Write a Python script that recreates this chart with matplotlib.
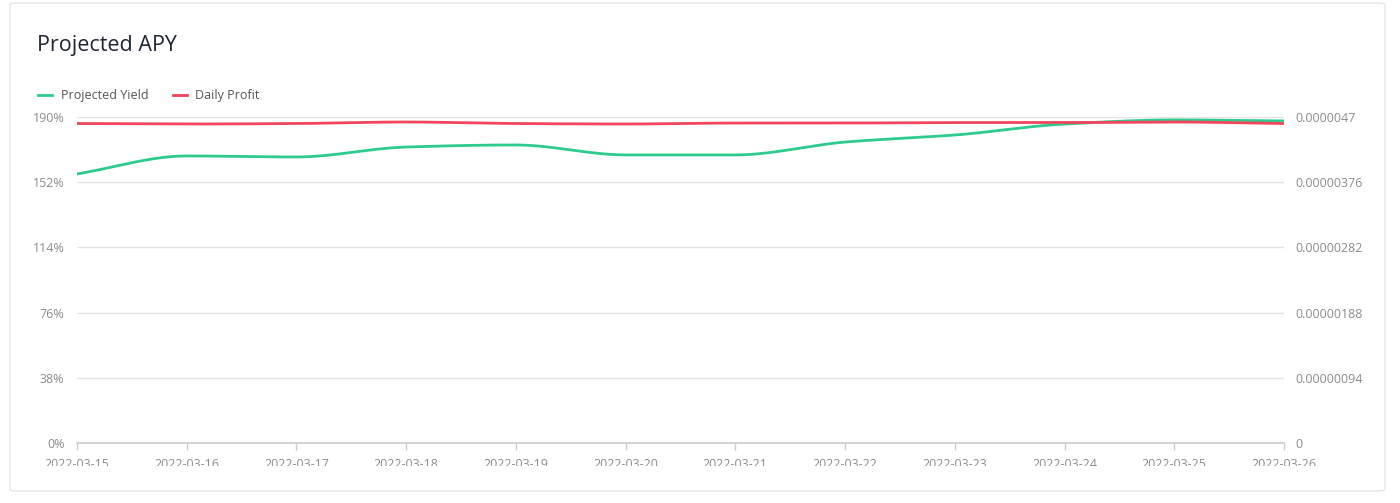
import matplotlib.pyplot as plt
import numpy as np
from matplotlib.patches import FancyBboxPatch
from matplotlib.transforms import Bbox, TransformedBbox
from matplotlib.ticker import FixedLocator, FixedFormatter

plt.rcParams['font.family'] = ['Open Sans', 'DejaVu Sans']

# data
dates = ['2022-03-15', '2022-03-16', '2022-03-17', '2022-03-18', '2022-03-19', '2022-03-20',
         '2022-03-21', '2022-03-22', '2022-03-23', '2022-03-24', '2022-03-25', '2022-03-26']
projected_yield = [156.8, 167.3, 166.7, 172.5, 173.7, 167.9, 167.9, 175.4, 179.5, 185.9, 188.3, 187.7]
daily_profit = [4.606e-6, 4.599e-6, 4.606e-6, 4.628e-6, 4.606e-6, 4.599e-6,
                4.613e-6, 4.613e-6, 4.620e-6, 4.620e-6, 4.628e-6, 4.606e-6]
left_ticks = [0, 38, 76, 114, 152, 190]
left_labels = ['0%', '38%', '76%', '114%', '152%', '190%']
right_ticks = [0, 0.00000094, 0.00000188, 0.00000282, 0.00000376, 0.0000047]
right_labels = ['0', '0.00000094', '0.00000188', '0.00000282', '0.00000376', '0.0000047']

GREEN = '#2ecb8e'
RED = '#f0455a'
GRID = '#e3e3e3'
TICK = '#8c8c8c'


def monotone(x, y, n=400):
    # Fritsch-Carlson monotone cubic, just for drawing a smooth line
    x = np.asarray(x, float)
    y = np.asarray(y, float)
    h = np.diff(x)
    d = np.diff(y) / h
    m = np.zeros_like(y)
    m[0], m[-1] = d[0], d[-1]
    for i in range(1, len(y) - 1):
        if d[i - 1] * d[i] <= 0:
            m[i] = 0
        else:
            w1 = 2 * h[i] + h[i - 1]
            w2 = h[i] + 2 * h[i - 1]
            m[i] = (w1 + w2) / (w1 / d[i - 1] + w2 / d[i])
    xs = np.linspace(x[0], x[-1], n)
    idx = np.clip(np.searchsorted(x, xs) - 1, 0, len(x) - 2)
    t = (xs - x[idx]) / h[idx]
    h00 = 2 * t**3 - 3 * t**2 + 1
    h10 = t**3 - 2 * t**2 + t
    h01 = -2 * t**3 + 3 * t**2
    h11 = t**3 - t**2
    ys = h00 * y[idx] + h10 * h[idx] * m[idx] + h01 * y[idx + 1] + h11 * h[idx] * m[idx + 1]
    return xs, ys


fig = plt.figure(figsize=(14, 5.03), dpi=100)

# card background, behind the axes
card = FancyBboxPatch((10 / 1400, 12 / 503), 1375 / 1400, 488 / 503,
                      boxstyle='round,pad=0,rounding_size=0.004',
                      transform=fig.transFigure, facecolor='white',
                      edgecolor='#e6e6e6', linewidth=1.0, zorder=-10)
fig.patches.append(card)

fig.text(37 / 1400, 1 - 45 / 503, 'Projected APY', fontsize=15.5, color='#1f2533', va='center')

ax = fig.add_axes([77 / 1400, 60 / 503, 1207 / 1400, 326 / 503])
ax2 = ax.twinx()
ax.patch.set_alpha(0)
ax2.patch.set_alpha(0)

x = np.arange(len(dates))
xs, ys = monotone(x, projected_yield)
ax.plot(xs, ys, color=GREEN, lw=2, zorder=3)
xs, ys = monotone(x, daily_profit)
ax2.plot(xs, ys, color=RED, lw=2, zorder=3)

ax.set_xlim(0, len(dates) - 1)
ax.set_ylim(0, 190)
ax2.set_ylim(0, 0.0000047)

ax.yaxis.set_major_locator(FixedLocator(left_ticks))
ax.yaxis.set_major_formatter(FixedFormatter(left_labels))
ax2.yaxis.set_major_locator(FixedLocator(right_ticks))
ax2.yaxis.set_major_formatter(FixedFormatter(right_labels))
ax.set_xticks(x)
ax.set_xticklabels(dates)

ax.grid(axis='y', color=GRID, lw=1)
ax.set_axisbelow(True)
for a in (ax, ax2):
    for s in ('top', 'left', 'right', 'bottom'):
        a.spines[s].set_visible(False)
ax.spines['bottom'].set_visible(True)
ax.spines['bottom'].set_color('#cccccc')
ax.spines['bottom'].set_linewidth(1.2)

ax.tick_params(axis='y', length=0, pad=9, labelsize=9, labelcolor=TICK)
ax2.tick_params(axis='y', length=0, pad=8, labelsize=9, labelcolor=TICK)
ax.tick_params(axis='x', length=5, width=1, color='#cccccc', pad=6, labelsize=9, labelcolor=TICK)

# legend drawn by hand
legend_y = 1 - 95 / 503
fig.add_artist(plt.Line2D([38 / 1400, 52 / 1400], [legend_y, legend_y], color=GREEN, lw=2,
                          transform=fig.transFigure))
fig.text(61 / 1400, legend_y, 'Projected Yield', fontsize=9, color='#555555', va='center')
fig.add_artist(plt.Line2D([173 / 1400, 187 / 1400], [legend_y, legend_y], color=RED, lw=2,
                          transform=fig.transFigure))
fig.text(195 / 1400, legend_y, 'Daily Profit', fontsize=9, color='#555555', va='center')

# the date labels are cut off at the bottom in the reference
clip = TransformedBbox(Bbox([[0, 37 / 503], [1, 1]]), fig.transFigure)
for lbl in ax.get_xticklabels():
    lbl.set_clip_on(True)
    lbl.set_clip_box(clip)

fig.savefig('out.png', dpi=100, facecolor='white')
